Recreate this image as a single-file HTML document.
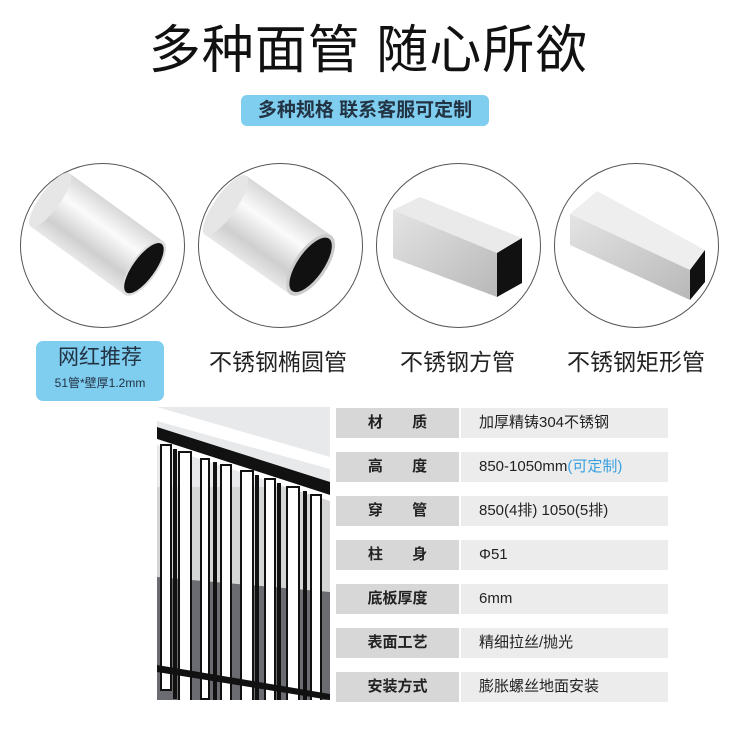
<!DOCTYPE html><html><head><meta charset="utf-8"><style>
body{margin:0;width:737px;height:737px;background:#fff;overflow:hidden;position:relative;font-family:"Liberation Sans","Noto Sans CJK SC",sans-serif}
.a{position:absolute}
.t{left:0;width:737px;top:20px;text-align:center;font-size:52px;line-height:62px;color:#111;letter-spacing:1px}
.b{left:241px;top:95px;width:248px;height:31px;background:#7fcdef;border-radius:6px;text-align:center;font-size:19px;line-height:31px;color:#234;font-weight:bold}
.c{width:165px;height:165px;border:1px solid #555;border-radius:50%;top:163px;box-sizing:border-box}
.l{font-size:23px;top:343px;color:#222;white-space:nowrap}
.row{left:336px;width:332px;height:30px}
.row .k{position:absolute;left:0;top:0;width:123px;height:30px;background:#d7d7d7;text-align:center;font-size:15px;line-height:30px;color:#222;font-weight:bold}
.row .v{position:absolute;left:125px;top:0;width:207px;height:30px;background:#ececec;font-size:15px;line-height:30px;color:#222;padding-left:18px;box-sizing:border-box}
</style></head><body>
<div class="a t">多种面管 随心所欲</div>
<div class="a b">多种规格 联系客服可定制</div>
<div class="a c" style="left:20px"></div>
<div class="a c" style="left:198px"></div>
<div class="a c" style="left:376px"></div>
<div class="a c" style="left:554px"></div>
<svg class="a" style="left:0;top:0" width="737" height="340">
<defs><linearGradient id="g" x1="0" y1="0" x2="0" y2="1"><stop offset="0" stop-color="#d8d8d8"/><stop offset=".35" stop-color="#fbfbfb"/><stop offset=".75" stop-color="#cfcfcf"/><stop offset="1" stop-color="#e8e8e8"/></linearGradient>
<linearGradient id="s" x1="0" y1="0" x2="1" y2="1"><stop offset="0" stop-color="#e4e4e4"/><stop offset="1" stop-color="#b8b8b8"/></linearGradient></defs>
<g transform="translate(97,234) rotate(36)"><rect x="-58" y="-33" width="116" height="66" fill="url(#g)"/><ellipse cx="-58" cy="0" rx="10" ry="33" fill="#e6e6e6"/><ellipse cx="58" cy="0" rx="13" ry="33" fill="#ddd"/><ellipse cx="58" cy="0" rx="11" ry="30" fill="#111"/></g>
<g transform="translate(268,235) rotate(35)"><rect x="-52" y="-36" width="104" height="72" fill="url(#g)"/><ellipse cx="-52" cy="0" rx="11" ry="36" fill="#e6e6e6"/><ellipse cx="52" cy="0" rx="16" ry="36" fill="#ccc"/><ellipse cx="52" cy="0" rx="13" ry="32" fill="#111"/></g>
<polygon points="393,210 420,197 522,238 497,253" fill="#eaeaea"/>
<polygon points="393,210 497,253 497,297 393,258" fill="url(#s)"/>
<polygon points="497,253 522,238 522,283 497,297" fill="#111"/>
<polygon points="570,214 597,191 705,250 690,270" fill="#eee"/>
<polygon points="570,214 690,270 690,300 570,245" fill="url(#s)"/>
<polygon points="690,270 705,250 705,282 690,300" fill="#111"/>
</svg>
<div class="a" style="left:36px;top:341px;width:128px;height:60px;background:#7fcdef;border-radius:7px;text-align:center;color:#234">
<div style="font-size:21px;line-height:30px;margin-top:2px">网红推荐</div><div style="font-size:12px;line-height:20px">51管*壁厚1.2mm</div></div>
<div class="a l" style="left:209px">不锈钢椭圆管</div>
<div class="a l" style="left:400px">不锈钢方管</div>
<div class="a l" style="left:567px">不锈钢矩形管</div>
<svg class="a" style="left:157px;top:407px" width="173" height="293">
<rect width="173" height="293" fill="#d4d6d6"/>
<rect y="0" width="173" height="80" fill="#e8e9ea"/>
<polygon points="0,170 173,185 173,293 0,293" fill="#6a6c72"/>
<polygon points="0,0 173,50 173,62 0,14" fill="#fff"/>
<polygon points="0,20 173,75 173,88 0,32" fill="#111"/>
<polygon points="0,32 173,88 173,94 0,38" fill="#fff"/>
<g fill="#fff" stroke="#111" stroke-width="2">
<rect x="4" y="38" width="10" height="245"/><rect x="22" y="45" width="12" height="250"/><rect x="44" y="52" width="8" height="240"/><rect x="64" y="58" width="10" height="240"/><rect x="84" y="64" width="12" height="235"/><rect x="108" y="72" width="10" height="225"/><rect x="130" y="80" width="12" height="215"/><rect x="154" y="88" width="10" height="210"/>
</g>
<g fill="#111"><rect x="16" y="42" width="4" height="250"/><rect x="56" y="55" width="4" height="240"/><rect x="98" y="68" width="4" height="230"/><rect x="120" y="76" width="4" height="220"/><rect x="146" y="84" width="4" height="215"/></g>
<polygon points="0,265 173,293 173,287 0,258" fill="#111"/>
</svg>
<div class="a row" style="top:408px"><div class="k">材&nbsp;&nbsp;&nbsp;&nbsp;&nbsp;&nbsp;&nbsp;质</div><div class="v">加厚精铸304不锈钢</div></div>
<div class="a row" style="top:452px"><div class="k">高&nbsp;&nbsp;&nbsp;&nbsp;&nbsp;&nbsp;&nbsp;度</div><div class="v">850-1050mm<span style="color:#39a0e0">(可定制)</span></div></div>
<div class="a row" style="top:496px"><div class="k">穿&nbsp;&nbsp;&nbsp;&nbsp;&nbsp;&nbsp;&nbsp;管</div><div class="v">850(4排) 1050(5排)</div></div>
<div class="a row" style="top:540px"><div class="k">柱&nbsp;&nbsp;&nbsp;&nbsp;&nbsp;&nbsp;&nbsp;身</div><div class="v">Φ51</div></div>
<div class="a row" style="top:584px"><div class="k">底板厚度</div><div class="v">6mm</div></div>
<div class="a row" style="top:628px"><div class="k">表面工艺</div><div class="v">精细拉丝/抛光</div></div>
<div class="a row" style="top:672px"><div class="k">安装方式</div><div class="v">膨胀螺丝地面安装</div></div>
</body></html>
